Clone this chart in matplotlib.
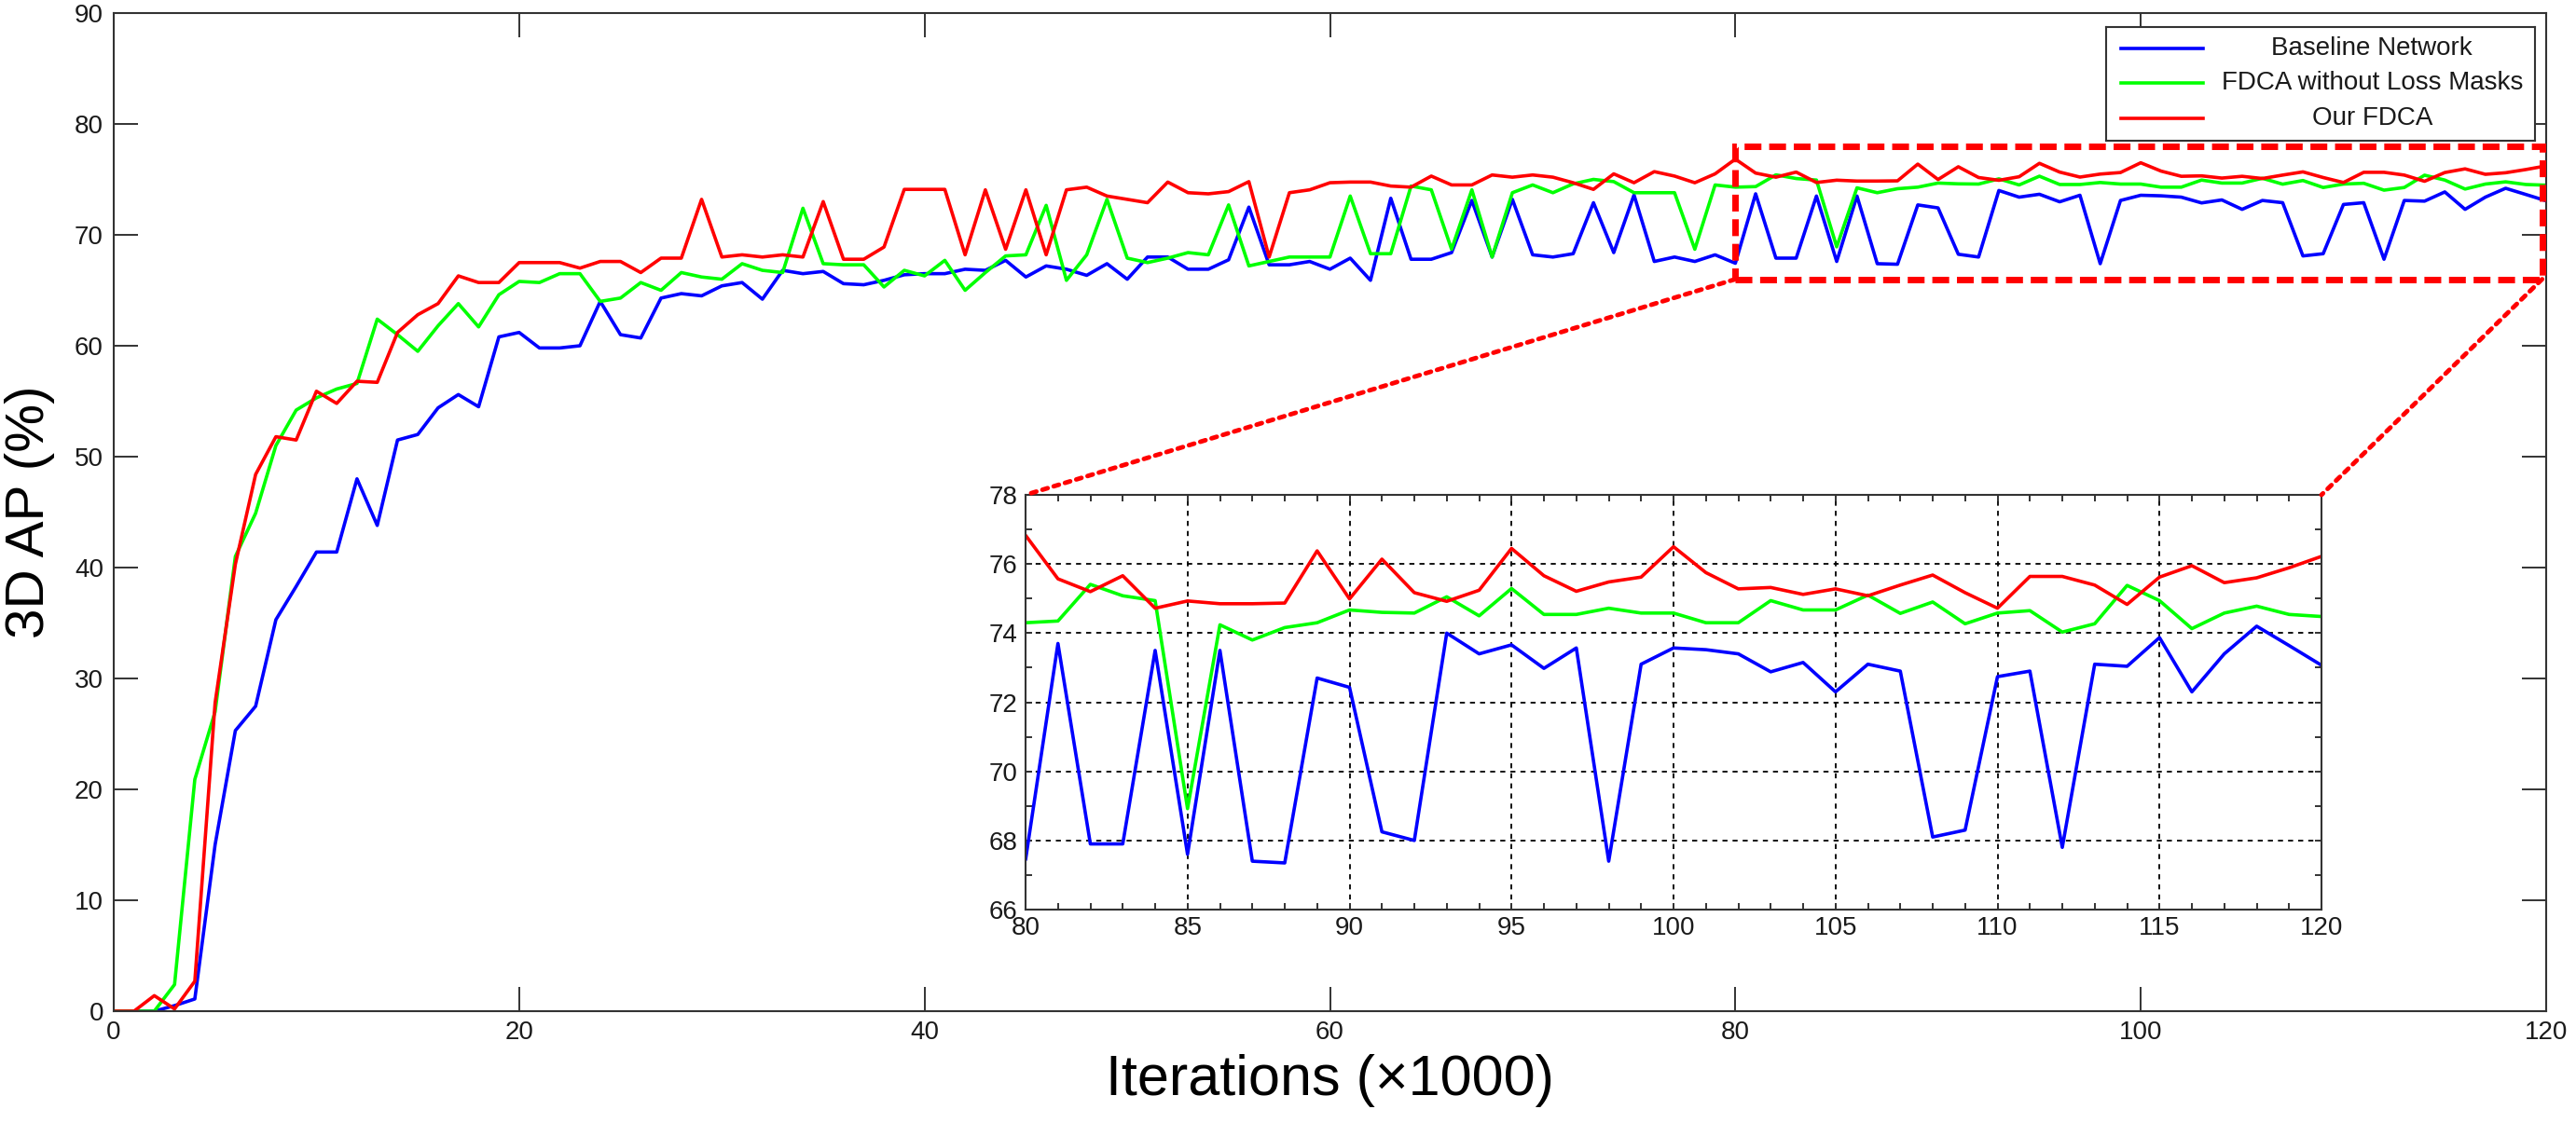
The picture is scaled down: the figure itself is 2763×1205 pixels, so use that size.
# -*- coding: utf-8 -*-
"""
3D AP vs. iterations, with a zoomed inset for 80k-120k
"""
import numpy as np
import matplotlib.pyplot as plt
from matplotlib.patches import Rectangle, ConnectionPatch
from matplotlib.lines import Line2D
from matplotlib.ticker import MultipleLocator

#%%
# 1. Data
iteraciones = np.arange(0, 121)

baseline = [0, 0, 0, 0.5, 1.1, 15.0, 25.3, 27.5, 35.3, 38.3,
            41.4, 41.4, 48.0, 43.8, 51.5, 52.0, 54.4, 55.6, 54.5, 60.8,
            61.2, 59.8, 59.8, 60.0, 64.0, 61.0, 60.7, 64.3, 64.7, 64.5,
            65.4, 65.7, 64.2, 66.8, 66.5, 66.7, 65.6, 65.5, 65.9, 66.4,
            66.5, 66.5, 66.9, 66.8, 67.7, 66.2, 67.2, 66.9, 66.35, 67.4,
            66.0, 68.0, 68.0, 66.9, 66.9, 67.75, 72.5, 67.3, 67.3, 67.6,
            66.9, 67.9, 65.9, 73.3, 67.8, 67.8, 68.4, 73.1, 68.0, 73.2,
            68.2, 68.0, 68.3, 72.9, 68.4, 73.6, 67.6, 68.0, 67.6, 68.2,
            67.44, 73.7, 67.9, 67.9, 73.5, 67.6, 73.5, 67.4, 67.35, 72.7,
            72.43, 68.25, 68.0, 74.0, 73.4, 73.66, 72.98, 73.57, 67.4, 73.1,
            73.57, 73.52, 73.4, 72.88, 73.15, 72.3, 73.1, 72.9, 68.1, 68.3,
            72.74, 72.9, 67.8, 73.1, 73.04, 73.87, 72.3, 73.4, 74.2, 73.64,
            73.07]

sin_mascaras = [0, 0, 0, 2.4, 20.9, 27.0, 41.0, 44.9, 51.0, 54.2,
                55.3, 56.1, 56.6, 62.4, 61.0, 59.5, 61.8, 63.8, 61.7, 64.6,
                65.8, 65.7, 66.5, 66.5, 64.0, 64.3, 65.7, 65.0, 66.6, 66.2,
                66.0, 67.4, 66.8, 66.6, 72.4, 67.4, 67.3, 67.3, 65.3, 66.8,
                66.3, 67.7, 65.0, 66.6, 68.1, 68.2, 72.66, 65.9, 68.2, 73.2,
                67.9, 67.5, 67.9, 68.4, 68.2, 72.7, 67.2, 67.6, 68.0, 68.0,
                68.0, 73.5, 68.3, 68.3, 74.4, 74.06, 68.7, 74.06, 68.0, 73.8,
                74.5, 73.8, 74.6, 75.0, 74.8, 73.8, 73.8, 73.8, 68.7, 74.5,
                74.3, 74.35, 75.41, 75.08, 74.94, 68.92, 74.24, 73.8, 74.16, 74.3,
                74.67, 74.6, 74.58, 75.05, 74.5, 75.29, 74.54, 74.54, 74.72, 74.58,
                74.58, 74.3, 74.3, 74.94, 74.67, 74.67, 75.1, 74.57, 74.9, 74.27,
                74.58, 74.65, 74.03, 74.27, 75.38, 74.94, 74.13, 74.58, 74.78, 74.54,
                74.48]

fdca = [0, 0, 1.4, 0.2, 2.7, 27.8, 40.3, 48.4, 51.8, 51.5,
        55.9, 54.8, 56.8, 56.7, 61.2, 62.8, 63.8, 66.3, 65.7, 65.7,
        67.5, 67.5, 67.5, 67.0, 67.6, 67.6, 66.6, 67.9, 67.9, 73.2,
        68.0, 68.2, 68.0, 68.2, 68.0, 73.0, 67.8, 67.8, 68.9, 74.1,
        74.1, 74.1, 68.2, 74.06, 68.7, 74.06, 68.2, 74.06, 74.3, 73.5,
        73.2, 72.9, 74.76, 73.8, 73.7, 73.9, 74.8, 68.0, 73.8, 74.06,
        74.7, 74.76, 74.76, 74.4, 74.3, 75.3, 74.5, 74.5, 75.4, 75.2,
        75.4, 75.2, 74.7, 74.1, 75.5, 74.7, 75.7, 75.3, 74.7, 75.5,
        76.83, 75.57, 75.2, 75.66, 74.72, 74.93, 74.85, 74.85, 74.87, 76.38,
        74.99, 76.14, 75.17, 74.92, 75.24, 76.45, 75.66, 75.21, 75.48, 75.62,
        76.5, 75.75, 75.28, 75.32, 75.12, 75.28, 75.08, 75.39, 75.68, 75.17,
        74.72, 75.64, 75.64, 75.39, 74.83, 75.62, 75.95, 75.46, 75.6, 75.89,
        76.22]

nombres = ['Baseline Network', 'FDCA without Loss Masks', 'Our FDCA']
colores = ['#0000ff', '#00ff00', '#ff0000']
series = [baseline, sin_mascaras, fdca]

# zoomed window
zoom_x = (80, 120)
zoom_y = (66, 78)

#%%
# 2. Style
plt.rcParams['font.family'] = ['Liberation Sans', 'DejaVu Sans']
gris = '#333333'
texto = '#1a1a1a'
grosor = 2.6

fig = plt.figure(figsize=(27.63, 12.05), dpi=100)
W, H = 2763, 1205

#%%
# 3. Main axes
ax = fig.add_axes([122 / W, 1 - 1085 / H, 2609 / W, 1071 / H])
for s, c in zip(series, colores):
    ax.plot(iteraciones, s, color=c, lw=grosor)

ax.set_xlim(0, 120)
ax.set_ylim(0, 90)
ax.set_xticks(np.arange(0, 121, 20))
ax.set_yticks(np.arange(0, 91, 10))
ax.tick_params(direction='in', length=19, width=1.4, color=gris,
               labelsize=20, labelcolor=texto, top=True, right=True)
ax.tick_params(axis='x', pad=7)
ax.tick_params(axis='y', pad=8)
for sp in ax.spines.values():
    sp.set_color(gris)
    sp.set_linewidth(1.5)

ax.set_xlabel('Iterations (×1000)', fontsize=44, color='black')
ax.set_ylabel('3D AP (%)', fontsize=42, color='black')
ax.xaxis.set_label_coords(0.5, -0.043)
ax.yaxis.set_label_coords(-0.024, 0.5)

# dashed box marking the zoomed window
ax.add_patch(Rectangle((zoom_x[0], zoom_y[0]), zoom_x[1] - zoom_x[0] - 0.2,
                       zoom_y[1] - zoom_y[0], fill=False, ec='#ff0000',
                       lw=5, ls=(0, (2.6, 1.2)), clip_on=False, zorder=5))

#%%
# 4. Inset
axins = fig.add_axes([1100 / W, 1 - 976 / H, 1390 / W, 445 / H])
for s, c in zip(series, colores):
    axins.plot(iteraciones, s, color=c, lw=grosor)
axins.set_xlim(*zoom_x)
axins.set_ylim(*zoom_y)
axins.xaxis.set_major_locator(MultipleLocator(5))
axins.xaxis.set_minor_locator(MultipleLocator(1))
axins.yaxis.set_major_locator(MultipleLocator(2))
axins.yaxis.set_minor_locator(MultipleLocator(1))
axins.tick_params(which='both', direction='in', length=5, width=1.4,
                  color=gris, top=True, right=True)
axins.tick_params(labelsize=20, labelcolor=texto)
axins.tick_params(axis='x', pad=5)
axins.tick_params(axis='y', pad=6)
axins.grid(True, which='major', color='black', ls=(0, (3, 3)), lw=1.3)
for sp in axins.spines.values():
    sp.set_color(gris)
    sp.set_linewidth(1.5)

# dotted connectors from the box to the inset
for xa, xb in [(zoom_x[0], zoom_x[0]), (zoom_x[1] - 0.2, zoom_x[1])]:
    con = ConnectionPatch(xyA=(xa, zoom_y[0]), coordsA=ax.transData,
                          xyB=(xb, zoom_y[1]), coordsB=axins.transData,
                          color='#ff0000', lw=3.5, ls=(0, (1.2, 1.4)))
    fig.add_artist(con)

#%%
# 5. Legend (entries centred, as in the original)
axleg = fig.add_axes([2259 / W, 1 - 151 / H, 460 / W, 122 / H])
axleg.set_xlim(0, 1)
axleg.set_ylim(0, 1)
axleg.set_xticks([])
axleg.set_yticks([])
for sp in axleg.spines.values():
    sp.set_color(gris)
    sp.set_linewidth(1.5)
filas = [0.81, 0.51, 0.2]
for nombre, c, yy in zip(nombres, colores, filas):
    axleg.add_line(Line2D([0.035, 0.226], [yy, yy], color=c, lw=grosor))
    axleg.text(0.62, yy, nombre, ha='center', va='center', fontsize=20,
               color=texto)

plt.savefig('out.png', dpi=100)
